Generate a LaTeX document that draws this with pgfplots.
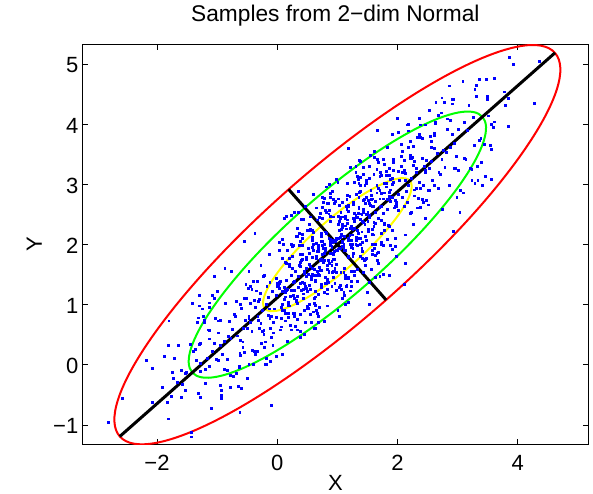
\documentclass[border=0pt]{standalone}
\usepackage{pgfplots}
\pgfplotsset{compat=1.18}
\usepackage{fontspec}
\setmainfont{Liberation Sans}
\definecolor{mred}{rgb}{1,0,0}
\definecolor{mgreen}{rgb}{0,1,0}
\definecolor{myellow}{rgb}{1,1,0}
\definecolor{mblue}{rgb}{0,0,1}
\begin{document}
\begin{tikzpicture}
\begin{axis}[
  scale only axis, width=506.7pt, height=400pt,
  xmin=-3.248, xmax=5.181, ymin=-1.316, ymax=5.338,
  xtick={-2,0,2,4}, xticklabels={−2,0,2,4},
  ytick={-1,0,1,2,3,4,5}, yticklabels={−1,0,1,2,3,4,5},
  tick label style={font=\fontsize{22}{26}\selectfont},
  xticklabel style={inner sep=0pt, yshift=-11pt},
  yticklabel style={inner sep=0pt, xshift=-3.5pt, yshift=-1pt},
  major tick length=5.5pt,
  every tick/.style={black, line width=0.8pt},
  axis line style={black, line width=0.9pt},
  title={Samples from 2−dim Normal},
  title style={font=\fontsize{22.7}{27}\selectfont, at={([yshift=16.7pt]axis description cs:0.5,1)}, anchor=base},
  xlabel={X}, ylabel={Y},
  label style={font=\fontsize{22}{26}\selectfont},
  xlabel style={at={([yshift=-46pt]axis description cs:0.5,0)}, anchor=base},
  ylabel style={at={([xshift=-40pt]axis description cs:0,0.5)}, anchor=base},
]
% samples
\addplot[only marks, mark=square*, mark size=0.95pt, mark options={draw=mblue, fill=mblue, line width=0pt}] coordinates {
(1.23,2.30) (0.13,0.85) (2.41,3.76) (0.95,1.88) (1.52,2.73) (-0.63,-0.02) (1.71,2.62) (0.66,2.61) (3.12,3.43) (0.82,1.35)
(0.59,2.07) (1.95,2.61) (-0.28,1.19) (1.08,1.11) (1.37,2.87) (0.34,1.14) (2.74,3.41) (-1.05,1.10) (1.14,1.49) (1.58,2.63)
(1.46,2.33) (0.88,2.39) (-0.02,0.79) (2.19,4.00) (0.45,1.35) (1.29,2.52) (-0.47,0.01) (1.83,2.75) (0.73,2.14) (3.33,3.30)
(0.37,2.18) (1.11,1.98) (1.78,2.86) (-0.91,0.17) (1.39,3.12) (0.78,0.72) (2.56,3.39) (0.06,0.58) (1.02,2.47) (1.61,2.30)
(2.08,2.78) (0.52,1.93) (1.19,1.43) (-0.36,0.96) (1.67,3.42) (0.91,1.66) (3.21,3.26) (0.26,1.81) (1.33,2.11) (0.42,1.75)
(0.69,0.80) (1.87,3.27) (-0.12,0.77) (1.44,2.37) (2.63,4.04) (0.84,1.25) (-1.28,0.35) (1.25,2.16) (1.06,2.54) (0.21,0.98)
(1.55,3.49) (0.62,1.49) (2.27,3.31) (0.31,0.64) (0.99,2.08) (1.92,3.10) (-0.55,0.20) (1.17,2.82) (2.98,3.47) (0.76,2.05)
(0.53,1.32) (1.35,3.09) (0.09,0.17) (2.45,3.30) (1.13,1.43) (-0.21,1.48) (1.74,2.40) (0.94,2.07) (-0.83,0.09) (1.49,3.02)
(1.28,2.27) (0.43,2.42) (2.12,2.63) (0.85,1.37) (-0.68,1.06) (1.63,2.35) (1.04,2.24) (3.41,2.98) (0.17,1.91) (0.64,1.38)
(0.79,1.85) (2.36,3.83) (0.28,0.80) (1.41,2.50) (1.09,2.03) (-0.39,1.38) (1.86,2.30) (0.47,2.63) (2.71,3.16) (-1.14,0.58)
(1.16,1.32) (0.02,1.31) (1.57,2.82) (2.52,2.66) (0.71,2.45) (1.01,1.90) (-0.17,1.30) (1.79,2.33) (0.56,2.46) (3.04,2.53)
(0.89,2.05) (1.68,1.87) (-0.44,1.30) (1.32,2.07) (0.39,1.63) (2.23,2.53) (1.21,2.80) (0.16,1.25) (-0.97,0.73) (1.47,1.66)
(1.39,1.80) (0.74,2.19) (1.97,2.63) (-0.59,0.94) (1.12,1.15) (2.88,4.07) (0.29,1.10) (1.54,2.45) (0.97,2.72) (-0.06,0.53)
(0.48,1.75) (2.15,2.88) (1.27,2.71) (0.12,0.91) (1.62,3.55) (-0.31,0.74) (3.27,4.11) (1.07,1.25) (0.65,1.81) (1.81,3.01)
(1.74,2.03) (0.86,2.57) (-0.24,0.90) (1.43,2.58) (2.61,2.99) (0.33,2.27) (1.18,1.04) (-1.39,0.23) (1.96,2.10) (0.58,2.11)
(0.67,1.55) (1.51,2.53) (2.33,2.61) (0.23,2.01) (1.03,1.94) (-0.51,1.10) (1.89,1.99) (0.81,1.90) (2.92,4.42) (1.26,1.94)
(1.09,2.28) (0.38,0.55) (1.73,3.15) (-0.09,0.80) (2.47,3.20) (0.72,2.52) (0.96,1.35) (3.16,3.90) (0.08,1.22) (1.36,2.78)
(0.55,1.25) (2.01,3.86) (0.83,1.65) (1.59,2.76) (-0.73,-0.19) (1.22,2.27) (2.29,3.39) (0.19,0.79) (1.48,3.06) (-0.88,0.39)
(1.31,2.49) (0.07,0.96) (2.68,4.15) (0.63,0.60) (1.15,2.26) (-0.19,0.38) (1.66,2.98) (0.93,1.75) (3.52,4.14) (0.44,1.10)
(0.76,2.44) (1.84,2.59) (-0.35,1.23) (1.05,1.32) (1.42,2.39) (2.39,3.99) (0.27,1.15) (-0.62,0.19) (1.19,2.55) (1.99,2.64)
(1.61,2.16) (0.91,1.95) (2.21,3.71) (0.54,1.01) (-0.44,1.02) (1.34,2.23) (1.93,3.23) (0.32,1.07) (3.09,4.72) (0.87,1.69)
(0.42,1.83) (1.24,1.38) (0.01,1.30) (2.57,3.62) (1.11,1.53) (-0.27,1.66) (1.69,2.44) (0.69,1.99) (-1.01,0.09) (1.44,3.16)
(1.13,1.00) (1.77,2.76) (0.46,0.90) (2.06,3.30) (-0.66,0.48) (1.38,2.42) (0.84,1.42) (2.83,4.09) (0.15,1.24) (1.02,2.33)
(0.64,0.99) (2.18,2.99) (1.53,3.30) (-0.14,0.82) (1.06,1.54) (0.21,1.77) (3.36,3.74) (1.28,2.43) (0.57,0.71) (1.71,3.14)
(1.47,1.76) (0.79,2.00) (-0.53,0.74) (1.82,3.15) (2.42,2.75) (0.36,2.54) (1.14,1.90) (-0.94,0.74) (1.91,1.92) (0.92,2.03)
(0.81,2.21) (1.58,1.90) (2.09,3.55) (0.14,1.20) (1.35,2.52) (-0.42,0.56) (1.76,3.42) (1.01,0.91) (2.77,3.56) (0.51,0.94)
(1.27,2.67) (0.29,1.24) (1.48,2.50) (-0.25,0.55) (2.26,3.64) (0.98,1.90) (0.61,2.00) (3.24,3.07) (0.03,1.27) (1.17,3.02)
(0.47,1.31) (1.92,2.23) (1.08,2.46) (0.39,1.36) (2.49,3.40) (-0.78,-0.37) (1.32,2.83) (0.86,1.56) (1.64,2.53) (-0.13,1.84)
(1.19,2.64) (0.56,1.26) (2.64,4.36) (0.73,1.57) (1.57,2.75) (-0.07,0.33) (1.86,2.78) (1.04,2.39) (-1.19,-0.31) (1.38,2.98)
(0.93,1.83) (2.04,3.07) (0.18,1.04) (1.29,3.04) (0.62,0.61) (2.32,3.20) (1.66,1.86) (-0.48,1.27) (1.12,1.91) (2.95,3.68)
(1.41,1.88) (0.42,2.17) (1.19,2.07) (2.11,3.20) (-0.33,0.22) (1.73,2.63) (0.77,2.70) (0.09,1.00) (2.86,2.98) (1.06,2.45)
(0.71,1.62) (1.64,2.72) (-0.18,0.11) (1.38,2.89) (2.54,2.90) (0.49,1.61) (1.02,2.76) (-1.31,-0.47) (1.87,2.87) (0.88,1.86)
(1.52,2.21) (0.66,2.02) (1.97,1.97) (0.24,1.48) (1.14,2.47) (-0.61,0.15) (2.38,3.78) (1.23,2.07) (0.53,1.86) (3.45,3.66)
(0.85,2.69) (1.71,1.47) (0.03,1.36) (1.33,1.59) (2.24,3.44) (0.57,1.47) (-0.29,1.09) (1.58,2.01) (1.09,2.70) (-0.81,0.47)
(1.36,2.60) (0.34,0.75) (2.47,3.23) (0.89,2.79) (1.79,2.36) (-0.22,0.51) (1.05,2.44) (2.69,3.20) (0.61,1.90) (0.17,0.39)
(0.58,2.23) (1.18,1.81) (1.88,2.72) (-0.47,1.56) (1.49,1.77) (2.13,3.07) (0.74,1.75) (0.37,1.99) (3.02,3.23) (1.31,3.30)
(1.07,2.15) (0.15,1.68) (1.62,1.94) (0.82,2.54) (2.31,2.94) (-0.01,1.43) (1.42,2.04) (-0.99,1.22) (1.76,1.51) (0.68,1.88)
(0.39,0.84) (2.22,3.43) (1.25,2.01) (0.59,1.79) (-0.57,0.29) (1.93,3.37) (1.11,2.01) (2.61,3.60) (0.22,0.66) (1.54,2.48)
(1.33,3.14) (0.83,1.59) (-0.11,0.60) (1.68,2.94) (2.79,3.28) (0.41,1.74) (1.22,1.23) (0.27,1.99) (-1.12,-0.03) (2.02,2.84)
(0.96,2.71) (1.45,1.74) (-0.38,1.07) (1.96,2.73) (1.16,2.62) (0.51,1.22) (2.17,3.99) (0.12,1.09) (1.59,2.76) (3.29,3.02)
(0.77,1.70) (1.87,3.15) (-0.41,0.24) (1.05,2.12) (0.48,1.27) (2.63,4.02) (0.29,1.38) (1.34,1.39) (-1.12,0.57) (1.18,2.65)
(1.41,1.93) (0.05,1.39) (2.28,2.81) (0.92,2.89) (0.63,1.13) (1.66,2.86) (-0.74,0.59) (3.05,2.90) (0.86,2.51) (0.42,1.37)
(0.54,1.67) (1.12,1.61) (2.02,3.21) (-0.19,0.00) (1.55,2.65) (0.71,1.48) (2.47,3.99) (0.17,1.25) (1.27,1.86) (-1.33,0.70)
(1.63,1.82) (0.89,2.02) (0.22,1.14) (2.91,3.83) (0.61,0.88) (1.22,3.28) (-0.56,0.61) (1.94,3.42) (0.98,1.53) (0.39,1.70)
(-0.08,1.22) (1.48,2.07) (0.81,2.57) (2.36,3.04) (0.33,0.58) (1.09,2.34) (-1.21,0.74) (1.74,2.19) (0.67,1.89) (1.58,2.25)
(1.31,3.20) (0.13,0.73) (2.12,3.23) (0.56,1.63) (-0.63,-0.04) (1.16,2.75) (3.28,3.65) (0.75,1.84) (0.94,1.46) (1.79,3.02)
(0.45,0.51) (1.38,2.51) (-0.27,0.69) (1.69,3.36) (1.01,1.92) (0.08,0.90) (2.55,3.80) (0.83,1.18) (-0.98,0.53) (1.24,1.95)
(1.47,2.68) (0.65,0.91) (1.91,3.83) (-0.45,0.70) (0.87,2.57) (2.21,2.52) (0.26,1.60) (1.06,1.93) (2.83,3.91) (0.51,0.98)
(0.72,1.73) (1.57,1.58) (-0.12,1.37) (1.15,2.63) (2.68,2.94) (0.37,1.65) (0.96,1.76) (-1.41,1.02) (1.83,2.09) (1.36,2.62)
(1.21,2.15) (-0.36,0.17) (1.72,3.20) (0.59,1.50) (0.91,1.97) (2.39,2.62) (0.14,1.70) (1.53,1.37) (-0.71,0.84) (3.14,3.42)
(0.84,2.68) (1.98,2.69) (0.43,1.18) (-0.52,1.34) (1.29,1.55) (0.99,2.10) (2.17,2.70) (0.21,1.67) (1.44,1.54) (-1.04,1.47)
(1.11,1.95) (0.32,2.13) (2.44,2.70) (0.68,1.93) (1.61,2.37) (-0.23,1.47) (0.79,1.20) (1.84,2.75) (2.97,3.27) (0.53,2.34)
(0.61,2.20) (1.26,1.81) (0.03,1.37) (2.59,3.06) (0.88,2.85) (-0.88,-0.07) (1.71,2.90) (0.46,1.55) (1.03,1.28) (2.06,3.47)
(1.52,2.25) (-0.15,1.12) (0.73,1.29) (1.88,3.09) (0.38,0.45) (2.31,3.26) (-1.27,-0.11) (0.93,2.75) (1.35,2.19) (0.19,0.99)
(0.26,1.97) (1.14,1.43) (2.24,3.10) (0.57,1.42) (-0.61,1.01) (1.67,1.73) (0.82,2.96) (3.39,3.77) (0.04,1.90) (1.42,1.89)
(1.33,2.45) (0.49,1.47) (-0.33,1.39) (1.77,1.99) (0.97,2.06) (2.51,2.90) (0.11,2.01) (1.19,2.10) (-0.92,-0.42) (0.74,2.06)
(0.91,1.72) (1.62,3.45) (0.27,0.85) (2.09,3.20) (-0.47,0.80) (1.28,1.48) (1.04,2.65) (-1.16,0.10) (1.92,2.78) (0.64,1.22)
(1.45,2.75) (-0.01,0.14) (1.17,2.35) (0.41,1.24) (2.73,4.19) (0.78,1.73) (-0.29,0.61) (1.81,3.21) (0.52,0.94) (2.88,3.61)
(0.69,1.51) (1.93,3.04) (-0.68,-0.15) (1.37,3.40) (0.85,1.74) (2.19,3.62) (0.34,1.02) (1.07,2.25) (-1.52,-0.14) (1.56,2.90)
(1.24,1.56) (0.16,1.41) (2.35,2.77) (0.95,2.68) (0.58,1.61) (-0.39,0.01) (1.73,2.85) (2.62,3.81) (0.81,1.45) (0.01,1.36)
(0.39,1.84) (1.09,2.05) (-0.21,0.29) (1.46,2.99) (2.44,2.98) (0.66,1.77) (0.07,0.77) (1.68,2.93) (-1.09,-0.72) (1.13,2.31)
(1.58,2.17) (0.76,2.62) (1.99,2.70) (-0.57,0.38) (0.89,2.47) (2.27,2.34) (0.31,1.56) (1.31,2.01) (3.01,3.91) (0.56,0.84)
(0.87,3.00) (0.23,1.24) (1.54,3.10) (-0.06,0.70) (2.66,3.52) (0.62,1.58) (1.16,2.58) (-0.83,-0.09) (1.85,2.76) (0.98,1.67)
(1.36,3.01) (-0.18,1.01) (0.47,0.70) (2.14,3.18) (0.94,2.46) (1.79,2.23) (-1.36,0.26) (0.72,1.57) (1.43,3.29) (0.29,0.86)
(0.53,2.24) (1.21,2.00) (2.53,3.26) (0.18,0.85) (-0.42,1.25) (1.64,1.46) (0.86,2.10) (2.94,3.26) (0.09,2.08) (1.08,1.97)
(1.19,1.79) (0.42,2.10) (-0.09,0.45) (1.86,2.80) (0.65,1.48) (2.42,3.44) (0.24,0.58) (0.99,3.09) (-0.77,0.44) (1.49,3.06)
(0.73,1.33) (1.71,2.76) (0.52,1.50) (2.25,3.45) (-0.26,0.36) (1.02,2.10) (1.39,2.00) (-1.24,0.93) (1.97,2.73) (0.83,0.98)
(1.53,2.69) (0.08,1.77) (0.92,1.54) (1.61,2.64) (-0.49,0.60) (2.78,4.37) (0.68,1.17) (1.14,2.44) (0.36,1.47) (2.13,2.16)
(0.81,1.36) (1.44,2.74) (-0.64,-0.36) (1.27,2.43) (0.43,1.25) (2.07,3.67) (0.14,1.22) (0.96,1.61) (3.19,4.31) (0.62,1.02)
(1.07,2.17) (-0.04,0.93) (1.82,2.96) (0.71,0.96) (1.38,3.39) (-0.32,0.80) (0.34,2.14) (2.48,2.73) (0.88,2.09) (-0.95,0.32)
(0.59,2.12) (1.58,1.83) (0.81,1.93) (-0.11,0.80) (2.33,3.78) (0.27,1.37) (1.23,1.30) (1.91,3.00) (-0.86,1.02) (0.94,1.55)
(1.29,2.38) (0.36,1.28) (2.18,3.89) (0.62,1.11) (-0.54,1.10) (1.51,2.39) (0.98,1.24) (3.31,4.47) (0.13,1.13) (1.12,2.14)
(0.48,1.79) (1.34,1.98) (0.03,2.03) (1.76,2.52) (0.86,1.53) (2.61,3.85) (-0.38,0.22) (0.77,1.93) (1.47,2.14) (-1.45,0.34)
(1.15,1.31) (0.29,2.53) (1.97,2.64) (0.67,2.41) (-0.24,0.56) (1.43,2.53) (2.29,2.91) (0.42,1.99) (0.91,1.30) (2.81,3.53)
(0.64,1.40) (1.66,3.25) (-0.47,0.77) (1.11,1.21) (0.21,1.64) (2.22,3.49) (0.95,1.56) (-0.69,0.80) (1.39,2.10) (1.83,3.61)
(1.42,1.77) (0.82,2.19) (0.12,1.28) (2.47,2.44) (0.51,2.23) (-0.13,0.93) (1.26,2.25) (1.63,2.01) (-1.02,0.77) (0.69,0.70)
(0.93,1.85) (1.85,2.32) (0.38,2.06) (1.18,1.46) (-0.31,1.06) (2.01,2.57) (0.58,1.96) (2.99,2.78) (0.24,2.49) (1.32,2.12)
(1.61,3.16) (-0.22,0.57) (0.75,1.99) (1.41,2.21) (2.57,3.71) (0.07,0.63) (0.89,1.99) (-0.61,0.40) (1.78,3.34) (0.46,1.52)
(0.67,0.86) (1.17,2.41) (2.11,3.40) (0.32,1.06) (-0.79,0.72) (1.59,2.26) (0.78,2.77) (1.73,2.01) (3.12,4.03) (-0.02,1.16)
(1.04,1.29) (0.55,2.26) (2.38,2.93) (0.04,1.27) (0.84,1.38) (1.49,2.78) (-0.17,0.01) (1.88,2.91) (0.41,1.24) (-1.29,0.98)
(-2.80,-0.96) (-2.58,-0.56) (-2.18,0.08) (-2.07,-0.06) (-1.91,-0.37) (-2.08,-0.62) (-1.80,0.73) (-1.87,0.14) (-1.81,0.33) (-1.64,0.33)
(-1.71,0.10) (-1.74,-0.12) (-1.72,-0.23) (-1.66,-0.29) (-1.59,-0.10) (-1.57,-0.33) (-1.53,-0.42) (-1.76,-0.52) (-1.83,-0.63) (-1.59,-0.54)
(-1.81,-0.90) (-1.51,-0.12) (-1.27,-0.54) (-0.95,-0.34) (-0.93,-0.51) (-0.93,-0.56) (-0.60,-0.39) (-0.62,-0.79) (-0.78,-0.17) (-0.50,-0.22)
(-1.43,-1.13) (-1.28,0.03) (-1.30,1.15) (-1.08,1.16) (-1.31,0.78) (-1.22,0.81) (-1.21,0.71) (-1.13,1.03) (-1.13,0.96) (-1.12,0.43)
(-1.05,0.36) (-1.29,0.34) (-1.20,-0.07) (-1.35,0.07) (-0.97,0.07) (-1.08,0.22) (-1.42,-1.20) (-0.10,-0.68) (-0.11,0.05)
(3.86,5.11) (3.93,5.00) (4.36,5.04) (4.28,4.35) (3.85,3.96) (3.84,4.43) (3.79,4.31) (3.78,4.54) (3.61,4.76) (3.48,4.74)
(3.36,4.74) (3.31,4.65) (3.29,4.58) (2.87,4.64) (3.49,4.47) (3.50,4.41) (2.93,4.41) (2.92,4.34) (2.74,4.44) (3.56,4.00)
(3.59,3.95) (3.61,4.04) (3.54,3.65) (3.56,3.58) (3.46,3.14) (3.56,3.08) (3.34,3.07)
(1.67,3.90) (1.19,3.60) (2.00,4.10) (2.36,4.10) (2.53,4.23) (3.10,2.86) (2.93,2.22) (2.75,2.59) (3.24,3.25) (3.40,3.37)
(2.14,1.69) (2.12,1.33) (1.87,1.48) (1.53,1.00) (1.50,1.21) (1.18,1.03) (1.04,0.81) (0.64,0.61) (1.68,1.69) (1.98,1.81)
(-0.87,1.60) (-0.76,1.56) (-0.37,2.18) (-0.55,2.06) (0.12,2.44) (0.36,2.89) (0.60,2.83) (0.76,2.78) (1.01,3.04) (0.40,2.42) (0.15,2.47)
};
% 1, 2 and 3 sigma contours
\draw[myellow, line width=2pt, rotate around={41.4:(axis cs:1,2)}] (axis cs:1,2) ellipse [x radius=1.608, y radius=0.409];
\draw[mgreen, line width=2pt, rotate around={41.4:(axis cs:1,2)}] (axis cs:1,2) ellipse [x radius=3.217, y radius=0.817];
\draw[mred, line width=2pt, rotate around={41.4:(axis cs:1,2)}] (axis cs:1,2) ellipse [x radius=4.825, y radius=1.226];
% principal axes
\addplot[black, line width=3pt] coordinates {(-2.620,-1.191) (4.620,5.191)};
\addplot[black, line width=3pt] coordinates {(0.189,2.920) (1.811,1.080)};
\end{axis}
\path (current axis.south west) ++(-82pt,-48pt) rectangle ++(593pt,492pt);
\end{tikzpicture}
\end{document}
